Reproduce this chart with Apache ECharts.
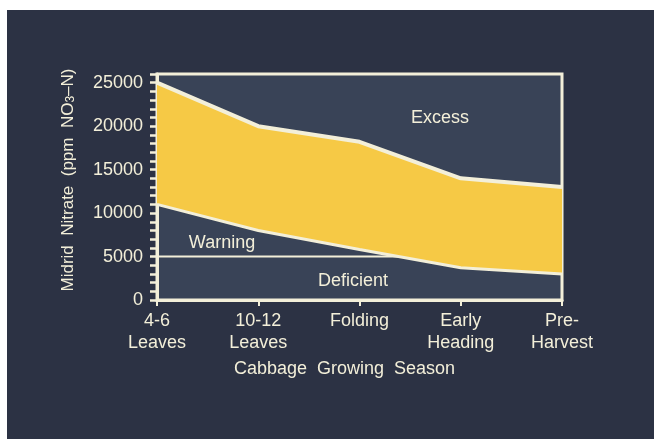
<!DOCTYPE html>
<html>
<head>
<meta charset="utf-8">
<script src="https://cdn.jsdelivr.net/npm/echarts@6/dist/echarts.min.js"></script>
<style>
html,body{margin:0;padding:0;background:#ffffff;}
#chart{width:654px;height:439px;}
</style>
</head>
<body>
<div id="chart"></div>
<script>
var categories = ['4-6\nLeaves', '10-12\nLeaves', 'Folding', 'Early\nHeading', 'Pre-\nHarvest'];
var upperBound = [25000, 20000, 18200, 14000, 13000];
var lowerBound = [11000, 8000, 5800, 3700, 3000];
var deficientLevel = [5000, 5000, 5000, 5000, 5000];
var yLabelStep = 5000;

var cream = '#f3efd9';
var font = 'Liberation Sans, Arial, sans-serif';
var band = upperBound.map(function (v, i) { return v - lowerBound[i]; });

var chart = echarts.init(document.getElementById('chart'));
chart.setOption({
  backgroundColor: '#2c3244',
  animation: false,
  textStyle: { fontFamily: font },
  grid: {
    left: 157, right: 92, top: 74, bottom: 139,
    show: true, backgroundColor: '#394357',
    borderColor: cream, borderWidth: 3
  },
  xAxis: {
    type: 'category',
    data: categories,
    boundaryGap: false,
    axisLine: { lineStyle: { color: cream, width: 3 } },
    axisTick: { show: true, length: 6, lineStyle: { color: cream, width: 2 } },
    axisLabel: { color: cream, fontSize: 18, lineHeight: 22, margin: 10, fontFamily: font },
    splitLine: { show: false },
    name: 'Cabbage  Growing  Season',
    nameLocation: 'middle',
    nameGap: 60,
    nameTextStyle: { color: cream, fontSize: 18, fontFamily: font, padding: [0, 30, 0, 0] }
  },
  yAxis: {
    type: 'value',
    min: 0, max: 26000, interval: 1000,
    axisLine: { show: true, lineStyle: { color: cream, width: 3 } },
    axisTick: { show: true, length: 7, lineStyle: { color: cream, width: 2.5 } },
    axisLabel: {
      color: cream, fontSize: 18, margin: 14, fontFamily: font,
      formatter: function (v) { return v % yLabelStep === 0 ? String(v) : ''; }
    },
    splitLine: { show: false },
    name: '{a|Midrid  Nitrate  (ppm  NO}{s|3}{a|–N)}',
    nameLocation: 'middle',
    nameGap: 80,
    nameTextStyle: {
      color: cream, fontFamily: font, padding: [0, 0, 0, 14],
      rich: {
        a: { fontSize: 17, color: cream, fontFamily: font },
        s: { fontSize: 12, color: cream, fontFamily: font, verticalAlign: 'bottom', padding: [6, 0, 0, 0] }
      }
    }
  },
  series: [
    {
      type: 'line', data: deficientLevel, z: 1, symbol: 'none',
      lineStyle: { color: cream, width: 2 }
    },
    {
      type: 'line', data: lowerBound, stack: 'b', z: 3, symbol: 'none',
      lineStyle: { color: cream, width: 3 }
    },
    {
      type: 'line', data: band, stack: 'b', z: 2, symbol: 'none',
      lineStyle: { color: cream, width: 4 },
      areaStyle: { color: '#f6c945', opacity: 1 }
    }
  ],
  graphic: [
    { type: 'rect', shape: { x: 0, y: 0, width: 654, height: 10 }, style: { fill: '#ffffff' } },
    { type: 'rect', shape: { x: 0, y: 0, width: 7, height: 439 }, style: { fill: '#ffffff' } },
    { type: 'text', x: 440, y: 118, style: { text: 'Excess', fill: cream, font: '18px ' + font, textAlign: 'center', textVerticalAlign: 'middle' } },
    { type: 'text', x: 352, y: 196, style: { text: 'Adequate', fill: '#2b3142', font: '18px ' + font, textAlign: 'center', textVerticalAlign: 'middle' } },
    { type: 'text', x: 222, y: 243, style: { text: 'Warning', fill: cream, font: '18px ' + font, textAlign: 'center', textVerticalAlign: 'middle' } },
    { type: 'text', x: 353, y: 281, style: { text: 'Deficient', fill: cream, font: '18px ' + font, textAlign: 'center', textVerticalAlign: 'middle' } }
  ]
});
</script>
</body>
</html>
